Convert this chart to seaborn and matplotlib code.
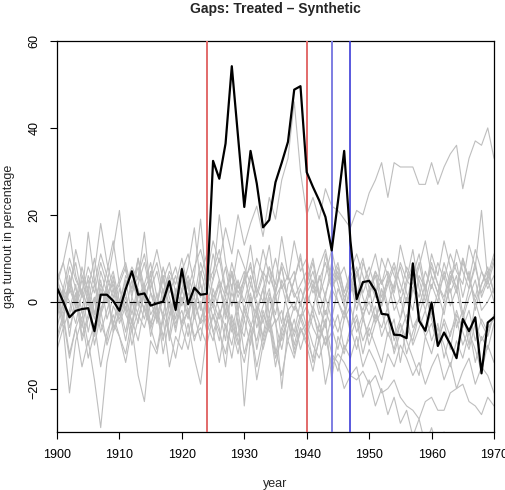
import numpy as np
import pandas as pd

import matplotlib
matplotlib.use("Agg")
import matplotlib.pyplot as plt
import seaborn as sns

years = list(range(1900, 1971))

# treated - synthetic gap (black line)
gap_treated = [
    3.2, 0.0, -3.6, -2.1, -1.7, -1.5, -6.8, 1.6, 1.6, 0.2,
    -2.1, 2.9, 7.0, 1.6, 1.9, -0.9, -0.4, 0.0, 4.7, -1.9,
    7.5, -0.6, 3.2, 1.6, 1.8, 32.4, 28.3, 36.4, 54.2, 38.0,
    21.8, 34.7, 27.2, 17.1, 18.8, 27.5, 32.0, 36.8, 48.8, 49.6,
    29.8, 26.4, 23.3, 19.5, 11.8, 23.0, 34.7, 14.0, 0.6, 4.5,
    4.8, 2.5, -2.8, -3.0, -7.6, -7.7, -8.4, 8.8, -4.4, -6.7,
    -0.2, -10.2, -7.1, -9.8, -13.0, -4.0, -6.8, -3.6, -16.5, -4.8,
    -3.6,
]

# placebo gaps (grey lines)
placebo_01 = [6, -2, 4, 9, 1, 5, -3, 7, 2, 4, -1, 6, 3, 8, 0, 5, 9, 2, 7, 4,
              10, 3, 8, 12, 6, 14, 9, 17, 11, 20, 13, 18, 22, 15, 24, 19, 28, 33, 46, 30,
              20, 24, 19, 26, 22, 21, 19, 17, 21, 20, 25, 28, 32, 24, 32, 31, 31, 31, 27, 27,
              32, 27, 31, 34, 36, 26, 33, 37, 36, 40, 33]
placebo_02 = [-4, 3, -8, 2, -6, 1, -10, -3, 4, -7, -2, -9, 0, -5, 3, -8, -1, -12, -4, 2,
              -6, -11, -3, -9, 1, -7, -14, -5, -10, -2, -12, -6, -15, -8, -3, -11, -17, -9, -13, -6,
              -10, -16, -8, -19, -12, -14, -20, -17, -15, -22, -18, -24, -20, -26, -22, -28, -25, -31, -27, -33,
              -29, -34, -30, -36, -32, -35, -33, -37, -34, -36, -35]
placebo_03 = [2, -5, 6, -1, 3, -7, 0, 5, -4, 1, 4, -3, -6, 2, -2, 7, -5, 1, -8, 3,
              -1, 5, -4, 0, -7, 3, -2, -9, 4, -5, -8, 1, -11, -3, -6, 2, -9, -4, -12, -7,
              -5, -10, -13, -8, -15, -12, -14, -17, -18, -16, -19, -17, -21, -20, -18, -22, -24, -25, -27, -23,
              -22, -25, -25, -21, -20, -19, -23, -24, -26, -22, -24]
placebo_04 = [-8, -3, -12, -6, -15, -9, -18, -29, -14, -7, -3, 1, -5, 3, -2, -6, 2, -4, 0, -7,
              1, -3, 4, -2, 6, 0, -4, 3, -1, 5, -2, 4, 0, -5, 2, -3, 5, 1, -2, 3,
              -1, 4, -3, 2, 6, 0, -4, 3, 7, 1, -3, 2, 5, -1, 4, 8, 2, -2, 6, 3,
              9, 4, 0, 6, 2, 10, 5, 1, 7, 3, 6]
placebo_05 = [-11, -6, -21, -9, -4, -13, -7, -2, -10, -5, -8, -14, -6, -17, -23, -9, -12, -4, -15, -8,
              -11, -5, -13, -19, -7, -3, -9, 0, -6, -12, -4, -10, -2, -8, 1, -5, -11, -3, -7, 0,
              -6, -2, -9, 1, -4, 3, -1, -7, 2, -3, 0, -5, 3, -2, -8, -4, 1, -6, -3, 2,
              -4, -9, -1, 3, -6, -2, -10, 0, -5, -8, -3]
placebo_06 = [5, 1, 8, 3, -2, 6, 2, 9, 4, 12, 21, 7, 3, 10, 1, 5, -1, 8, 2, 6,
              0, 4, -3, 7, 2, 11, 5, 1, 9, 3, 7, -1, 4, 12, 6, 2, 8, 0, 5, 10,
              3, 7, 1, 11, 4, 8, 2, 6, 0, 9, 5, 1, 10, 6, 3, 13, 7, 4, 9, 2,
              11, 6, 14, 8, 3, 10, 5, 12, 7, 4, 9]
placebo_07 = [4, 9, 16, 6, 1, 16, 5, -2, 3, 7, 0, 5, -3, 4, 9, 2, -1, 6, 1, -4,
              3, 8, 17, 4, -1, 5, 10, 2, 7, -2, 4, 9, 1, 6, -3, 3, 8, 0, 5, 11,
              2, -2, 6, 1, 9, 4, -1, 7, 3, -4, 2, 6, -1, 4, 8, 0, 5, 12, 3, -2,
              4, 0, 7, 2, 6, -3, 3, 9, 1, 5, 0]
placebo_08 = [1, -4, 3, -1, 5, 0, 7, 18, 9, 3, -2, 4, 8, 5, 16, 2, -3, 1, 6, -1,
              5, 0, 6, 19, 3, -4, 2, 8, -1, 4, 0, 6, -2, 3, 8, 1, -5, 4, 7, -1,
              5, 10, 2, -3, 3, 7, 0, 5, -2, 4, 8, 3, -1, 6, 1, -4, 4, 9, 5, 0,
              6, 2, -3, 5, 9, 1, 7, -2, 4, 8, 2]
placebo_09 = [-2, 3, 0, -5, 2, -1, 4, -3, 1, -6, 3, -2, 5, 0, -4, 2, -1, 6, -3, 1,
              -5, 2, -1, 4, -3, 0, 5, -4, 2, -2, 6, 0, -3, 3, -6, 1, 4, -2, 0, -4,
              2, 5, -1, -6, 3, 0, -3, 4, 1, -2, 3, -4, 0, 5, -2, 1, -5, 3, -1, 4,
              -3, 2, 6, -1, 3, -4, 1, 5, -2, 0, 3]
placebo_10 = [0, -6, -2, 4, -8, -3, 1, -5, -9, -1, -4, 0, -7, -2, 3, -5, -1, -8, -3, 2,
              -6, -2, -9, -4, 0, -7, -3, 1, -5, -10, -2, -6, -1, -9, -4, -12, -6, -2, -8, -3,
              -7, -1, -5, -10, -3, -7, -2, -6, -11, -4, -8, -3, -6, -1, -9, -5, -12, -7, -3, -8,
              -5, -10, -4, -8, -2, -7, -11, -5, -9, -6, -4]
placebo_11 = [7, 3, 10, 5, 2, 8, 4, 11, 6, 1, 5, 9, 2, 6, 11, 3, 7, 0, 4, 8,
              2, 6, 1, 9, 4, 7, 12, 3, 6, 1, 5, 8, 2, 7, 4, 10, 3, 6, 1, 4,
              7, 2, 5, 9, 3, 6, 1, 4, 8, 2, 6, 11, 4, 7, 2, 9, 5, 3, 8, 14,
              6, 2, 9, 4, 12, 7, 3, 8, 21, 5, 10]
placebo_12 = [-9, -4, -13, -6, -2, -10, -5, -15, -7, -3, -8, -12, -4, -9, -1, -6, -11, -3, -7, -13,
              -5, -2, -8, -6, -10, -3, -7, -12, -4, -9, -14, -6, -18, -10, -5, -13, -8, -4, -11, -6,
              -9, -13, -5, -10, -7, -3, -11, -8, -4, -12, -6, -10, -14, -7, -11, -5, -9, -13, -17, -8,
              -12, -6, -10, -15, -9, -13, -7, -11, -16, -10, -14]
placebo_13 = [3, -1, 5, 0, 8, 2, -3, 4, 1, 6, -2, 3, 7, -1, 4, 9, 1, -3, 5, 0,
              8, 3, -2, 6, 11, 1, 4, -3, 7, 2, 5, 13, 3, 0, 8, 4, 15, 6, 2, -1,
              4, 9, 1, 6, 12, 5, 8, 2, 6, 10, 3, 7, 1, 5, 9, 4, 0, 6, 11, 3,
              8, 4, 1, 7, 3, 9, 5, 0, 4, 7, 2]
placebo_14 = [-3, 2, -6, -1, -4, 3, -8, -2, 2, -5, -1, -7, 1, -3, -6, 0, -4, 3, -9, -2,
              1, -4, 3, -1, -5, -9, -2, -6, -13, -4, -24, -8, -3, -11, -5, -15, -7, -2, -10, -4,
              -1, -6, -9, -4, -18, -8, -12, -6, -3, -9, -5, -1, -8, -4, -12, -7, -3, -10, -6, -2,
              -9, -5, -13, -7, -4, -10, -6, -14, -8, -11, -5]
placebo_15 = [5, 9, 2, 12, 6, 3, 10, 1, 7, 14, 4, 8, 1, 10, 3, 6, 12, 5, 9, 2,
              7, 11, 4, 1, 8, 5, 20, 9, 3, 12, 8, 4, 10, 6, 13, 2, 9, 5, 14, 7,
              10, 3, 8, 12, 5, 9, 2, 7, 11, 6, 1, 7, 4, 10, 6, 2, 8, 5, 1, 7,
              3, 9, 5, 11, 7, 4, 13, 8, 2, 6, 11]
placebo_16 = [-6, 0, -3, 2, -9, -4, 1, -7, -2, 3, -5, -1, -10, -4, 2, -6, -3, -9, 0, -5,
              -2, -8, 0, -5, -3, -1, -6, -15, -3, -8, -1, -5, -9, -2, -7, -4, -20, -6, -1, -4,
              -8, -3, -7, -2, -6, -11, -4, -1, -7, -3, -10, -5, -2, -8, -4, -14, -6, -9, -3, -7,
              -2, -8, -5, -11, -3, -6, -2, -9, -4, -7, -3]
placebo_17 = [2, -3, 4, -1, 6, 1, -4, 3, 0, 5, -2, 2, -5, 1, 4, -3, 0, 5, -1, -6,
              3, -2, 1, -5, 2, -1, 4, -2, -7, 0, -4, 2, -6, -1, 3, -5, -2, -9, -4, -11,
              -6, -14, -9, -5, -12, -16, -10, -13, -8, -15, -11, -14, -18, -12, -15, -10, -13, -17, -14, -19,
              -15, -12, -18, -14, -20, -16, -13, -19, -15, -17, -21]

placebos = [placebo_01, placebo_02, placebo_03, placebo_04, placebo_05, placebo_06,
            placebo_07, placebo_08, placebo_09, placebo_10, placebo_11, placebo_12,
            placebo_13, placebo_14, placebo_15, placebo_16, placebo_17]

treatment_years = [1924, 1940]
other_years = [1944, 1947]


def main():
    sns.set_style("ticks")
    plt.rcParams['font.family'] = ['Liberation Sans', 'DejaVu Sans']

    placebo_df = pd.DataFrame({
        "year": years * len(placebos),
        "gap": np.concatenate(placebos),
        "unit": np.repeat(np.arange(len(placebos)), len(years)),
    })
    treated_df = pd.DataFrame({"year": years, "gap": gap_treated})

    fig = plt.figure(figsize=(5.06, 4.90), dpi=100)
    ax = fig.add_axes([57 / 506, 1 - 432 / 490, 437 / 506, 391 / 490])

    sns.lineplot(data=placebo_df, x="year", y="gap", units="unit", estimator=None,
                 color="#bebebe", linewidth=0.8, ax=ax, zorder=2)
    ax.axhline(0, color="black", linestyle=(0, (6, 3, 1, 3)), linewidth=0.8, zorder=3)

    for yr in treatment_years:
        ax.axvline(yr, color="#e26a6a", linewidth=1.4, zorder=4)
    ax.axvline(other_years[0], color="#7d7de2", linewidth=1.4, zorder=4)
    ax.axvline(other_years[1], color="#3c3cd8", linewidth=1.2, zorder=4)

    sns.lineplot(data=treated_df, x="year", y="gap", color="black",
                 linewidth=1.6, ax=ax, zorder=5)

    ax.set_xlim(1900, 1970)
    ax.set_ylim(-30, 60)
    ax.set_xticks(range(1900, 1971, 10))
    ax.set_yticks([-20, 0, 20, 40, 60])
    for lbl in ax.get_yticklabels():
        lbl.set_rotation(90)
        lbl.set_va("center")
    ax.tick_params(direction="out", length=5, width=0.8, labelsize=9, pad=7, colors="black")
    for sp in ax.spines.values():
        sp.set_visible(True)
        sp.set_color("black")
        sp.set_linewidth(0.9)

    ax.set_xlabel("year", fontsize=9)
    ax.set_ylabel("gap turnout in percentage", fontsize=9)
    ax.xaxis.set_label_coords(0.5, -0.118)
    ax.yaxis.set_label_coords(-0.097, 0.5)
    ax.set_title("Gaps: Treated \u2013 Synthetic", fontsize=10, fontweight="bold", pad=20)

    fig.savefig("out.png", dpi=100)


if __name__ == "__main__":
    main()
